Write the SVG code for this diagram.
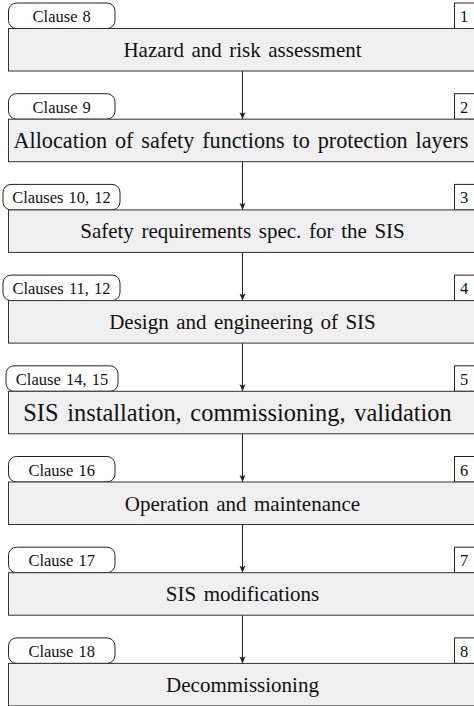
<svg xmlns="http://www.w3.org/2000/svg" width="474" height="706" viewBox="0 0 474 706">
<style>
.box{fill:#f0f0f0;stroke:#333;stroke-width:1}
.pill{fill:#fff;stroke:#222;stroke-width:1}
.num{fill:#fff;stroke:#222;stroke-width:1}
.e{stroke:#222;stroke-width:1;fill:none;marker-end:url(#ah)}
</style>
<defs>
<marker id="ah" markerWidth="8" markerHeight="8" refX="7" refY="4" orient="auto" markerUnits="userSpaceOnUse">
<path d="M0,1 L7,4 L0,7 L1.5,4 Z" fill="#222"/>
</marker>
</defs>
<g id="connectors">
<line class="e" x1="242.5" y1="71" x2="242.5" y2="119.2"/>
<line class="e" x1="242.5" y1="161.7" x2="242.5" y2="209.9"/>
<line class="e" x1="242.5" y1="252.4" x2="242.5" y2="300.6"/>
<line class="e" x1="242.5" y1="343.1" x2="242.5" y2="391.3"/>
<line class="e" x1="242.5" y1="433.8" x2="242.5" y2="482"/>
<line class="e" x1="242.5" y1="524.5" x2="242.5" y2="572.7"/>
<line class="e" x1="242.5" y1="615.2" x2="242.5" y2="663.4"/>
</g>
<g font-family="Liberation Serif, serif" fill="#111" text-anchor="middle">
<g id="step1">
<rect class="pill" x="8.5" y="3" width="106.5" height="25.5" rx="8"/>
<text font-size="16.5" word-spacing="1" x="61.7" y="22">Clause 8</text>
<rect class="num" x="454.5" y="3" width="21" height="25.5"/>
<text font-size="16.5" x="464" y="22">1</text>
<rect class="box" x="8.5" y="28.5" width="467" height="42.5"/>
<text font-size="21" word-spacing="2.2" x="242.5" y="57">Hazard and risk assessment</text>
</g>
<g id="step2">
<rect class="pill" x="8.5" y="93.7" width="106.5" height="25.5" rx="8"/>
<text font-size="16.5" word-spacing="1" x="61.7" y="112.7">Clause 9</text>
<rect class="num" x="454.5" y="93.7" width="21" height="25.5"/>
<text font-size="16.5" x="464" y="112.7">2</text>
<rect class="box" x="8.5" y="119.2" width="467" height="42.5"/>
<text font-size="22.2" word-spacing="2.3" x="241" y="148.2">Allocation of safety functions to protection layers</text>
</g>
<g id="step3">
<rect class="pill" x="3" y="184.4" width="117" height="25.5" rx="8"/>
<text font-size="16.5" word-spacing="1" x="61.5" y="203.4">Clauses 10, 12</text>
<rect class="num" x="454.5" y="184.4" width="21" height="25.5"/>
<text font-size="16.5" x="464" y="203.4">3</text>
<rect class="box" x="8.5" y="209.9" width="467" height="42.5"/>
<text font-size="21" word-spacing="2.4" x="242.5" y="238.4">Safety requirements spec. for the SIS</text>
</g>
<g id="step4">
<rect class="pill" x="3" y="275.1" width="117" height="25.5" rx="8"/>
<text font-size="16.5" word-spacing="1" x="61.5" y="294.1">Clauses 11, 12</text>
<rect class="num" x="454.5" y="275.1" width="21" height="25.5"/>
<text font-size="16.5" x="464" y="294.1">4</text>
<rect class="box" x="8.5" y="300.6" width="467" height="42.5"/>
<text font-size="21" word-spacing="2.2" x="242.5" y="329.1">Design and engineering of SIS</text>
</g>
<g id="step5">
<rect class="pill" x="6" y="365.8" width="112" height="25.5" rx="8"/>
<text font-size="16.5" word-spacing="1" x="62" y="384.8">Clause 14, 15</text>
<rect class="num" x="454.5" y="365.8" width="21" height="25.5"/>
<text font-size="16.5" x="464" y="384.8">5</text>
<rect class="box" x="8.5" y="391.3" width="467" height="42.5"/>
<text font-size="24.4" word-spacing="2.6" x="237.5" y="420.8">SIS installation, commissioning, validation</text>
</g>
<g id="step6">
<rect class="pill" x="8.5" y="456.5" width="106.5" height="25.5" rx="8"/>
<text font-size="16.5" word-spacing="1" x="61.7" y="475.5">Clause 16</text>
<rect class="num" x="454.5" y="456.5" width="21" height="25.5"/>
<text font-size="16.5" x="464" y="475.5">6</text>
<rect class="box" x="8.5" y="482" width="467" height="42.5"/>
<text font-size="21" word-spacing="2.2" x="242.5" y="510.5">Operation and maintenance</text>
</g>
<g id="step7">
<rect class="pill" x="8.5" y="547.2" width="106.5" height="25.5" rx="8"/>
<text font-size="16.5" word-spacing="1" x="61.7" y="566.2">Clause 17</text>
<rect class="num" x="454.5" y="547.2" width="21" height="25.5"/>
<text font-size="16.5" x="464" y="566.2">7</text>
<rect class="box" x="8.5" y="572.7" width="467" height="42.5"/>
<text font-size="21" word-spacing="2.2" x="242.5" y="601.2">SIS modifications</text>
</g>
<g id="step8">
<rect class="pill" x="8.5" y="637.9" width="106.5" height="25.5" rx="8"/>
<text font-size="16.5" word-spacing="1" x="61.7" y="656.9">Clause 18</text>
<rect class="num" x="454.5" y="637.9" width="21" height="25.5"/>
<text font-size="16.5" x="464" y="656.9">8</text>
<rect class="box" x="8.5" y="663.4" width="467" height="42.5"/>
<text font-size="21" word-spacing="2.2" x="242.5" y="691.9">Decommissioning</text>
</g>
</g>
</svg>
